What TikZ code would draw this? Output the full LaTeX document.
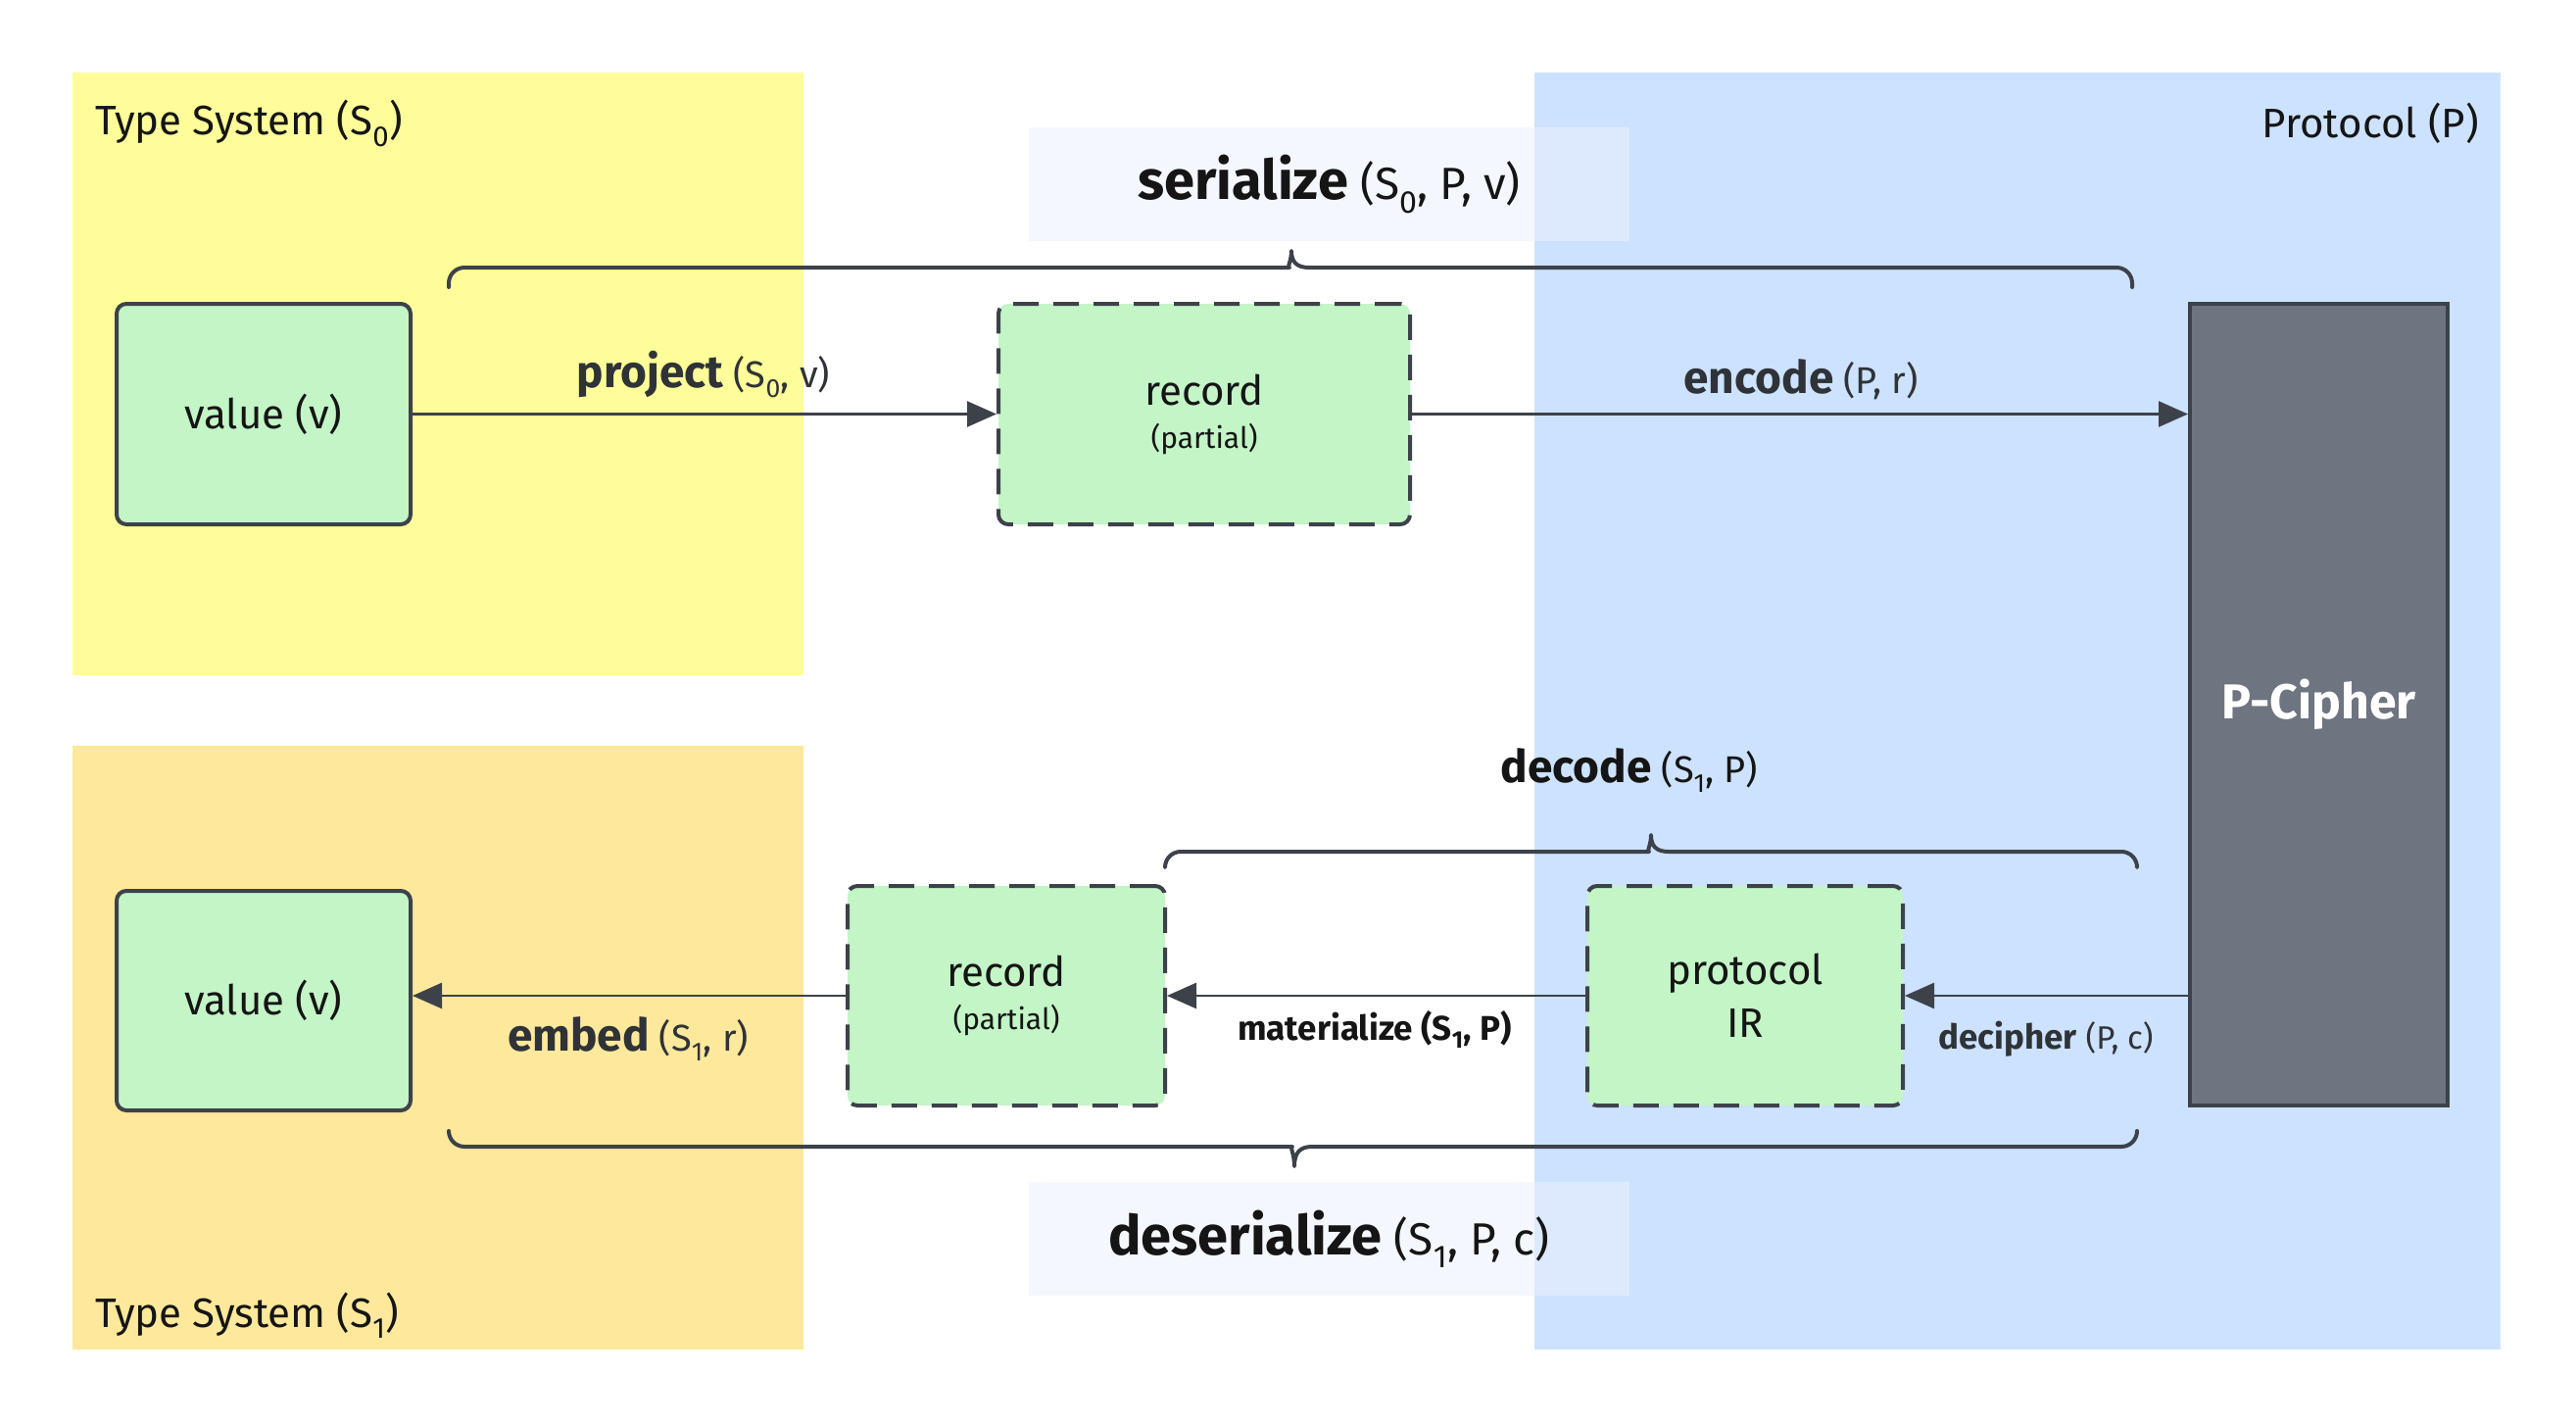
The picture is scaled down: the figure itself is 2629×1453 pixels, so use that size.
\documentclass[tikz,border=0pt]{standalone}
\usepackage{fontspec}
\setmainfont{Fira Sans}
\usetikzlibrary{arrows.meta}

\definecolor{ylw}{HTML}{FFFD99}
\definecolor{org}{HTML}{FDE89B}
\definecolor{blu}{HTML}{CCE2FE}
\definecolor{grn}{HTML}{C3F5C7}
\definecolor{edgec}{HTML}{3D424A}
\definecolor{pcf}{HTML}{6E7480}
\definecolor{lblbox}{HTML}{EBF2FD}
\definecolor{txt}{HTML}{151515}
\definecolor{lbltxt}{HTML}{2F3338}

\begin{document}
\begin{tikzpicture}[x=1pt,y=-1pt,
  solidbox/.style={draw=edgec, line width=4pt, fill=grn, rounded corners=10pt,
    inner sep=0pt, text=txt, align=center, font=\fontsize{42}{50}\selectfont},
  dashbox/.style={solidbox, dash pattern=on 26pt off 15pt},
  arr/.style={draw=edgec, line width=2.5pt, -{Triangle[length=30pt,width=26pt]}},
  brc/.style={draw=edgec, line width=4pt, line cap=round, line join=round},
  regionlbl/.style={inner sep=0pt, text=txt, font=\fontsize{42}{50}\selectfont},
  oplbl/.style={inner sep=0pt, text=lbltxt},
  bigbox/.style={fill=lblbox, fill opacity=0.55, text opacity=1, inner sep=0pt,
    minimum width=613pt, minimum height=116pt, text=txt}
]
\useasboundingbox (0,0) rectangle (2629,1453);

% regions
\fill[ylw] (74,74) rectangle (820,689);
\fill[org] (74,761) rectangle (820,1377);
\fill[blu] (1566,74) rectangle (2552,1377);

\node[regionlbl, anchor=west] (ts0) at (97,126) {Type System (S\textsubscript{0})};
\node[regionlbl, anchor=east] (prot) at (2530,126) {Protocol (P)};
\node[regionlbl, anchor=west] (ts1) at (97,1342) {Type System (S\textsubscript{1})};

% title boxes
\node[bigbox] (ser) at (1356.5,188) {{\fontsize{56}{60}\selectfont\bfseries serialize}{\fontsize{46}{50}\selectfont\ (S\textsubscript{0}, P, v)}};
\node[bigbox] (deser) at (1356.5,1264) {{\fontsize{56}{60}\selectfont\bfseries deserialize}{\fontsize{46}{50}\selectfont\ (S\textsubscript{1}, P, c)}};

% braces
\draw[brc] (458,293) [rounded corners=16pt] |- (1300,273) [sharp corners]
  .. controls (1313,273) and (1318,267) .. (1318,256)
  .. controls (1318,267) and (1323,273) .. (1336,273) [rounded corners=16pt] -| (2176,293);
\draw[brc] (1189,884) [rounded corners=16pt] |- (1667,869) [sharp corners]
  .. controls (1680,869) and (1685,863) .. (1685,852)
  .. controls (1685,863) and (1690,869) .. (1703,869) [rounded corners=16pt] -| (2181,884);
\draw[brc] (458,1154) [rounded corners=16pt] |- (1303,1170) [sharp corners]
  .. controls (1316,1170) and (1321,1177) .. (1321,1190)
  .. controls (1321,1177) and (1326,1170) .. (1339,1170) [rounded corners=16pt] -| (2181,1154);

% boxes
\node[solidbox, minimum width=300pt, minimum height=225pt] (vtop) at (269,422.5) {value (v)};
\node[dashbox, minimum width=420pt, minimum height=225pt] (rtop) at (1229,422.5)
  {record\\[-6pt]{\fontsize{30}{36}\selectfont (partial)}};
\node[draw=edgec, line width=4pt, fill=pcf, inner sep=0pt, minimum width=263pt, minimum height=818pt,
  text=white, font=\fontsize{50}{56}\selectfont\bfseries] (pc) at (2366.5,719) {P-Cipher};
\node[solidbox, minimum width=300pt, minimum height=224pt] (vbot) at (269,1021) {value (v)};
\node[dashbox, minimum width=324pt, minimum height=224pt] (rbot) at (1027,1016)
  {record\\[-6pt]{\fontsize{30}{36}\selectfont (partial)}};
\node[dashbox, minimum width=322pt, minimum height=224pt] (ir) at (1781,1016)
  {protocol\\[4pt]IR};

% arrows
\draw[arr] (vtop.east) -- (rtop.west);
\draw[arr] (rtop.east) -- (rtop.east -| pc.west);
\draw[arr] (rbot.west) -- (rbot.west -| vbot.east);
\draw[arr] (ir.west) -- (rbot.east);
\draw[arr] (pc.west |- ir.east) -- (ir.east);

% arrow labels
\node[oplbl] (lproj) at (718,382) {{\fontsize{46}{50}\selectfont\bfseries project}{\fontsize{38}{44}\selectfont\ (S\textsubscript{0}, v)}};
\node[oplbl] (lenc) at (1838,387) {{\fontsize{46}{50}\selectfont\bfseries encode}{\fontsize{38}{44}\selectfont\ (P, r)}};
\node[oplbl, text=txt] (ldec) at (1663,786) {{\fontsize{46}{50}\selectfont\bfseries decode}{\fontsize{38}{44}\selectfont\ (S\textsubscript{1}, P)}};
\node[oplbl] (lemb) at (641,1060) {{\fontsize{46}{50}\selectfont\bfseries embed}{\fontsize{38}{44}\selectfont\ (S\textsubscript{1}, r)}};
\node[oplbl, text=txt] (lmat) at (1403,1050) {\fontsize{35}{40}\selectfont\bfseries materialize (S\textsubscript{1}, P)};
\node[oplbl] (ldecph) at (2088,1060) {{\fontsize{35}{40}\selectfont\bfseries decipher}{\fontsize{33}{40}\selectfont\ (P, c)}};
\end{tikzpicture}
\end{document}
